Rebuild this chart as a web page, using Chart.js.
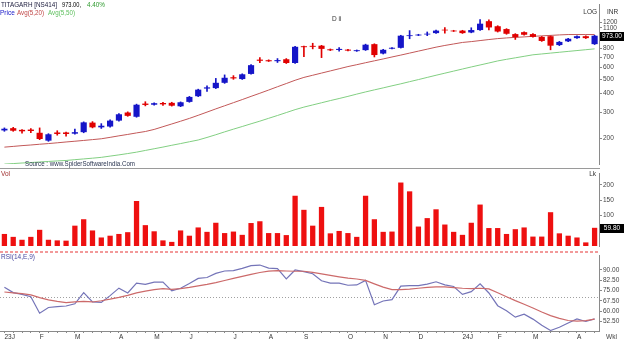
<!DOCTYPE html>
<html><head><meta charset="utf-8">
<script src="https://cdn.jsdelivr.net/npm/chart.js@4.4.1/dist/chart.umd.min.js"></script>
<style>
html,body{margin:0;padding:0;background:#fff;width:624px;height:341px;overflow:hidden;}
canvas{position:absolute;left:0;}
#cp{top:0;} #cv{top:169px;} #cr{top:251px;}
</style></head><body>
<canvas id="cp" width="624" height="169"></canvas>
<canvas id="cv" width="624" height="82"></canvas>
<canvas id="cr" width="624" height="90"></canvas>
<script>
const weeks = ['2023-01-02','2023-01-09','2023-01-16','2023-01-23','2023-01-30','2023-02-06','2023-02-13','2023-02-20','2023-02-27','2023-03-06',
'2023-03-13','2023-03-20','2023-03-27','2023-04-03','2023-04-10','2023-04-17','2023-04-24','2023-05-01','2023-05-08','2023-05-15',
'2023-05-22','2023-05-29','2023-06-05','2023-06-12','2023-06-19','2023-06-26','2023-07-03','2023-07-10','2023-07-17','2023-07-24',
'2023-07-31','2023-08-07','2023-08-14','2023-08-21','2023-08-28','2023-09-04','2023-09-11','2023-09-18','2023-09-25','2023-10-02',
'2023-10-09','2023-10-16','2023-10-23','2023-10-30','2023-11-06','2023-11-13','2023-11-20','2023-11-27','2023-12-04','2023-12-11',
'2023-12-18','2023-12-25','2024-01-01','2024-01-08','2024-01-15','2024-01-22','2024-01-29','2024-02-05','2024-02-12','2024-02-19',
'2024-02-26','2024-03-04','2024-03-11','2024-03-18','2024-03-25','2024-04-01','2024-04-08','2024-04-15'];

const open = [227,235,229,230,219,194,220,220,216,221,
 256,238,241,264,299,280,343,337,346,347,
 329,352,384,432,435,472,514,500,541,674,
 668,658,678,640,828,833,835,790,782,786,
 768,780,855,740,797,808,968,978,992,1013,
 1068,1053,1053,1023,1062,1217,1126,1078,998,1028,
 998,956,966,843,893,938,966,855];
const close = [233,226,224,225,199,214,215,215,221,257,
 238,244,264,291,284,337,336,345,339,332,
 350,380,425,440,472,510,505,538,619,662,
 657,669,640,821,816,821,795,778,795,774,
 779,848,723,784,809,974,980,990,1004,1053,
 1056,1041,1013,1062,1171,1105,1038,1003,952,988,
 956,898,835,885,929,966,938,973];
const high = [236,238,230,234,236,216,226,221,232,259,
 260,252,267,294,302,340,353,347,350,350,
 352,383,428,450,505,533,527,542,625,695,
 672,685,685,826,830,867,840,794,810,790,
 782,855,860,790,812,980,1053,995,1031,1060,
 1105,1058,1058,1100,1246,1241,1135,1085,1005,1035,
 1005,962,972,892,935,972,972,980];
const low = [224,224,218,219,197,192,211,208,214,219,
 236,234,239,262,282,278,331,335,334,330,
 327,350,382,414,432,468,498,497,538,644,
 655,645,635,636,705,795,695,774,768,770,
 765,776,702,735,794,805,929,975,974,1008,
 1013,1038,1008,1018,1056,1062,1030,995,919,982,
 950,892,784,836,888,932,932,850];
const volume = [39.7,30.2,20.7,30.2,53.2,20.7,18.7,17.8,66.8,87.8,
 51.2,28.2,34,39.7,45.5,147.4,68.5,48.4,18.7,13.8,
 51.2,34,61,46.6,76.3,42.6,47.5,36.8,75.4,81.2,
 42.6,42.6,36,164.6,118.6,66.8,128.1,41.7,49.5,42.6,
 30.2,164.6,87.8,46.6,47.5,207.8,179,63.9,91.5,120.3,
 70.5,46.6,36.8,76.3,135.8,59,59,39.7,55.3,61,
 31.1,31.1,110.8,41.7,34,28.2,12.1,59.8];
const avg20 = [175.6,177.6,179.7,181.5,183.6,185.5,187.7,190.1,192.3,194.6,
 197.1,199.7,204.1,208.9,213.5,218.5,223.3,230.5,240.4,250.7,
 261.5,273.1,286.4,300.9,316.1,331.6,347.8,364.8,383.2,402,
 422.3,444.3,466.7,490.9,512.8,530.1,548.1,566.6,585.8,605.7,
 623.5,642.7,661.7,681.1,702.1,722.7,745.1,768.1,791.8,816.3,
 837.9,857.4,877.6,889.1,903.3,917.8,931.2,940.7,948.9,955.8,
 964.2,971.2,978.2,985.4,991.1,991.1,991.1,991.1];
const avg50 = [135.3,136.4,137.6,138.6,139.8,140.9,142.1,143.1,144.8,146.5,
 148.2,150.1,153,155.9,159.1,162.6,166.9,171.3,175.8,180.7,
 185.5,190.7,196,203.8,212.5,222,231.5,241.1,251.4,261.8,
 273.5,285.6,298.7,312.4,324.9,335.9,347.3,359.1,370.7,383.2,
 396.8,410.2,423.5,436.6,450.7,464.7,480.4,495.9,512.8,530.1,
 547.3,565,583.3,602.2,620.8,640,660.7,677.2,693,709.2,
 725.9,735.4,745.1,754.9,764.8,774.8,785,795.3];
const rsi = [77.3,73.5,72.2,70.5,58.6,62.7,63.4,63.8,65.4,73.5,
 66.7,66.4,71.3,76.7,73.2,80.3,79.4,81,81,74.7,
 76.6,80,83.7,84.4,87.4,89.1,89.3,91,93,93.4,
 91.2,90.8,83.4,89.8,88.6,87.1,82,80.3,80.3,78.8,
 79,82.3,64.7,67.4,68.4,78.1,78.5,78.5,79.6,81.3,
 79.1,77.9,72.2,74.2,79.8,73.2,64,60.4,55.7,57.9,
 54.3,49.8,46.1,48.4,51.5,54.5,52.6,54.5];
const rsiSignal = [73.9,73.3,72.7,71.8,69.8,68.2,67.1,66.3,66.8,67.1,
 66.7,67.6,68.7,70,71.5,73.3,74.5,75.6,76.3,75.8,
 76.4,77.2,78.3,79.4,80.7,82.2,83.7,85.2,86.6,88,
 89,89.3,89.1,88.9,88.9,88.1,87,85.9,84.9,84,
 83.3,82.3,79.8,77.4,75.6,75.6,76,76.6,77.2,77.6,
 77.6,77.1,76.6,76.3,76.6,76.2,73.4,70.5,67.7,65.1,
 62.3,59.4,56.8,54.9,53.3,52.8,53.2,54.3];
const priceTicks = [200,300,400,500,600,700,800,1100,1200];
const volTicks = [100,150,200];
const rsiTicks = [52.5,60,67.5,75,82.5,90];
const monthTicks = {0:'23J',4:'F',8:'M',13:'A',17:'M',21:'J',26:'J',30:'A',34:'S',39:'O',43:'N',47:'D',52:'24J',56:'F',60:'M',65:'A'};
const lastClose = 973.00, lastChange = '4.40%', lastVol = 59.80;

const FONT = '"Liberation Sans", Arial, sans-serif';
Chart.defaults.font.family = FONT;
const AX = '#8a8a8a';

function txt(ctx, s, x, y, color, size, align, maxW){
  ctx.save(); ctx.font = size + 'px ' + FONT; ctx.fillStyle = color;
  ctx.textAlign = align || 'left'; ctx.textBaseline = 'middle';
  if (maxW) ctx.fillText(s, x, y, maxW); else ctx.fillText(s, x, y);
  ctx.restore();
}
function valueBox(ctx, s, y){
  ctx.save(); ctx.fillStyle = '#000'; ctx.fillRect(600, Math.round(y) - 4, 24, 9);
  ctx.restore(); txt(ctx, s, 612, Math.round(y) + 0.5, '#fff', 6.5, 'center', 22);
}
function yAxis(min, max, tickVals, fmt, type){
  return {
    type: type || 'linear', position: 'right', min: min, max: max,
    afterFit(s){ s.width = 25; },
    afterBuildTicks(s){ s.ticks = tickVals.map(v => ({value: v})); },
    border: {display: true, color: AX, width: 1},
    grid: {drawOnChartArea: false, drawTicks: true, tickLength: 3, color: AX},
    ticks: {font: {size: 6.5}, color: '#444', padding: 1, autoSkip: false, maxRotation: 0, callback: fmt}
  };
}
const base = {responsive: false, devicePixelRatio: 1, animation: false, layout: {padding: 0},
  plugins: {legend: {display: false}, tooltip: {enabled: false}}};
const candleColor = weeks.map((_, i) => close[i] >= open[i] ? '#1515c8' : '#e00000');

new Chart(document.getElementById('cp'), {
  type: 'bar',
  data: {labels: weeks, datasets: [
    {type: 'line', data: avg20, borderColor: '#c25858', borderWidth: 1, pointRadius: 0, order: 3},
    {type: 'line', data: avg50, borderColor: '#82cf82', borderWidth: 1, pointRadius: 0, order: 3},
    {data: weeks.map((_, i) => [low[i], high[i]]), backgroundColor: candleColor, barThickness: 1, grouped: false, order: 2},
    {data: weeks.map((_, i) => [open[i], close[i]]), backgroundColor: candleColor, barPercentage: 0.7, categoryPercentage: 1, grouped: false, order: 1}
  ]},
  options: Object.assign({}, base, {scales: {
    x: {display: false, offset: true},
    y: yAxis(135.3, 1563, priceTicks, v => String(v), 'logarithmic')
  }}),
  plugins: [{id: 'pp', afterDraw(c){
    const ctx = c.ctx;
    txt(ctx, 'TITAGARH [NS414]', 1, 5, '#202040', 6.5, 'left', 56);
    txt(ctx, lastClose.toFixed(2) + ',', 62, 5, '#000', 6.5, 'left', 19);
    txt(ctx, lastChange, 87, 5, '#2e9a2e', 6.5, 'left', 18);
    txt(ctx, 'Price', 0, 13, '#1515c8', 6.5, 'left', 15);
    txt(ctx, 'Avg(5,20)', 17, 13, '#c04848', 6.5, 'left', 27);
    txt(ctx, 'Avg(5,50)', 48, 13, '#5cbf5c', 6.5, 'left', 27);
    txt(ctx, 'D ii', 332, 19, '#333', 6.5);
    txt(ctx, 'Source : www.SpiderSoftwareIndia.Com', 25, 164.5, '#2a3550', 6.5, 'left', 110);
    txt(ctx, 'LOG', 597, 12, '#333', 6.5, 'right');
    txt(ctx, 'INR', 607, 12, '#333', 6.5);
    ctx.save(); ctx.strokeStyle = '#9a9a9a'; ctx.lineWidth = 1;
    ctx.beginPath(); ctx.moveTo(0, 168.5); ctx.lineTo(600, 168.5); ctx.stroke(); ctx.restore();
    valueBox(ctx, lastClose.toFixed(2), c.scales.y.getPixelForValue(lastClose));
  }}]
});

new Chart(document.getElementById('cv'), {
  type: 'bar',
  data: {labels: weeks, datasets: [
    {data: volume, backgroundColor: '#ee1010', borderColor: '#b00000', borderWidth: 0, barPercentage: 0.6, categoryPercentage: 1}
  ]},
  options: Object.assign({}, base, {scales: {
    x: {display: false, offset: true},
    y: yAxis(0, 236, volTicks, v => String(v))
  }}),
  plugins: [{id: 'vp', afterDraw(c){
    const ctx = c.ctx;
    txt(ctx, 'Vol', 1, 5, '#a03030', 6.5);
    txt(ctx, 'Lk', 596, 5, '#333', 6.5, 'right');
    valueBox(ctx, lastVol.toFixed(2), c.scales.y.getPixelForValue(lastVol));
  }}]
});

new Chart(document.getElementById('cr'), {
  type: 'line',
  data: {labels: weeks, datasets: [
    {data: rsiSignal, borderColor: '#cc6a6a', borderWidth: 1.2, pointRadius: 0},
    {data: rsi, borderColor: '#7474b8', borderWidth: 1.2, pointRadius: 0}
  ]},
  options: Object.assign({}, base, {scales: {
    x: {offset: true, afterFit(s){ s.height = 10; },
      border: {display: true, color: AX},
      grid: {drawOnChartArea: false, drawTicks: true, tickLength: 2, color: AX},
      ticks: {autoSkip: false, maxRotation: 0, minRotation: 0, align: 'start', padding: 0,
        font: {size: 6.5}, color: '#333', callback: (v, i) => monthTicks[i] || ''}},
    y: yAxis(45.72, 100, rsiTicks, v => Number(v).toFixed(2))
  }}),
  plugins: [{id: 'rp',
    beforeDatasetsDraw(c){
      const ctx = c.ctx, y = Math.round(c.scales.y.getPixelForValue(70)) + 0.5;
      ctx.save(); ctx.strokeStyle = '#a0a0a0'; ctx.lineWidth = 1; ctx.setLineDash([1, 2]);
      ctx.beginPath(); ctx.moveTo(0, y); ctx.lineTo(599, y); ctx.stroke(); ctx.restore();
    },
    afterDraw(c){
      const ctx = c.ctx;
      ctx.save(); ctx.strokeStyle = '#f29a9a'; ctx.lineWidth = 2; ctx.setLineDash([3, 2]);
      ctx.beginPath(); ctx.moveTo(0, 1); ctx.lineTo(599, 1); ctx.stroke(); ctx.restore();
      txt(ctx, 'RSI(14,E,9)', 1, 6, '#4848a0', 6.5);
      txt(ctx, 'Wkl', 606, 86, '#444', 6.5);
    }
  }]
});
</script>
</body></html>
